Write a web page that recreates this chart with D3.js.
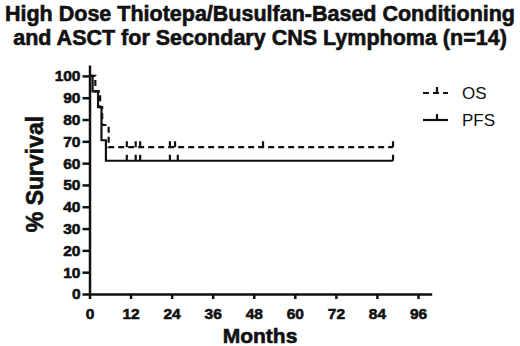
<!DOCTYPE html>
<html>
<head>
<meta charset="utf-8">
<script src="https://cdn.jsdelivr.net/npm/d3@7"></script>
<style>
  body { margin: 0; background: #fff; }
  svg { display: block; font-family: "Liberation Sans", Arial, Helvetica, sans-serif; }
  .heavy { stroke: #111; stroke-width: 0.6px; }
</style>
</head>
<body>
<svg id="chart" width="520" height="346"></svg>
<script>
// Kaplan-Meier steps (months, % survival)
const osTimes = [0, 1.7, 3.1, 3.7, 5.6, 88.7];
const osSurv = [100, 92.9, 85.7, 77.5, 67.3, 67.3];
const pfsTimes = [0, 0.9, 2.5, 3.5, 4.8, 88.7];
const pfsSurv = [100, 92.9, 85.7, 70.5, 61.1, 61.1];

// censored observations
const osCensor = [10.9, 13.5, 14.8, 23.5, 25.0, 50.7, 88.7];
const pfsCensor = [10.9, 13.5, 14.8, 23.5, 25.8, 88.7];

const xTicks = [0, 12, 24, 36, 48, 60, 72, 84, 96];
const yTicks = [0, 10, 20, 30, 40, 50, 60, 70, 80, 90, 100];

const titleLines = [
  "High Dose Thiotepa/Busulfan-Based Conditioning",
  "and ASCT for Secondary CNS Lymphoma (n=14)"
];

const svg = d3.select("#chart");

const x = d3.scaleLinear().domain([0, 100]).range([89.5, 431.7]);
const y = d3.scaleLinear().domain([0, 105]).range([294, 65]);

// Title
svg.append("g")
  .selectAll("text")
  .data(titleLines)
  .join("text")
  .attr("class", "heavy")
  .attr("x", 260)
  .attr("y", (d, i) => 21 + i * 24)
  .attr("text-anchor", "middle")
  .style("font-size", "21.5px")
  .style("font-weight", "bold")
  .attr("fill", "#111")
  .text(d => d);

// Axes
const xAxis = svg.append("g")
  .attr("transform", `translate(0,${y(0)})`)
  .call(d3.axisBottom(x).tickValues(xTicks).tickSize(5).tickSizeOuter(0).tickPadding(9));

const yAxis = svg.append("g")
  .attr("transform", `translate(${x(0)},0)`)
  .call(d3.axisLeft(y).tickValues(yTicks).tickSize(7).tickSizeOuter(0).tickPadding(2));

[xAxis, yAxis].forEach(a => {
  a.attr("font-family", null).attr("font-size", null);
  a.select(".domain").attr("stroke", "#111").attr("stroke-width", 2.5);
  a.selectAll(".tick line").attr("stroke", "#111").attr("stroke-width", 2.5);
  a.selectAll(".tick text")
    .attr("class", "heavy")
    .attr("fill", "#111")
    .style("font-size", "15.5px")
    .style("font-weight", "bold");
});

// Axis titles
svg.append("text")
  .attr("class", "heavy")
  .attr("x", 260)
  .attr("y", 343)
  .attr("text-anchor", "middle")
  .style("font-size", "21px")
  .style("font-weight", "bold")
  .attr("fill", "#111")
  .text("Months");

svg.append("text")
  .attr("class", "heavy")
  .attr("transform", "translate(43,174) rotate(-90)")
  .attr("text-anchor", "middle")
  .style("font-size", "23px")
  .style("font-weight", "bold")
  .attr("fill", "#111")
  .text("% Survival");

// Step lines
const step = d3.line()
  .x(d => x(d[0]))
  .y(d => y(d[1]))
  .curve(d3.curveStepAfter);

const series = [
  { name: "OS", times: osTimes, surv: osSurv, censor: osCensor, dash: "6,4" },
  { name: "PFS", times: pfsTimes, surv: pfsSurv, censor: pfsCensor, dash: null }
];

series.forEach(s => {
  const pts = s.times.map((t, i) => [t, s.surv[i]]);
  svg.append("path")
    .datum(pts)
    .attr("fill", "none")
    .attr("stroke", "#111")
    .attr("stroke-width", 2.2)
    .attr("stroke-dasharray", s.dash)
    .attr("d", step);

  // censor ticks sit on the level reached at each time
  const levelAt = t => {
    let v = s.surv[0];
    s.times.forEach((tt, i) => { if (tt <= t) v = s.surv[i]; });
    return v;
  };
  svg.append("g")
    .selectAll("line")
    .data(s.censor)
    .join("line")
    .attr("x1", d => x(d))
    .attr("x2", d => x(d))
    .attr("y1", d => y(levelAt(d)))
    .attr("y2", d => y(levelAt(d)) - 6)
    .attr("stroke", "#111")
    .attr("stroke-width", 2.2);
});

// Legend
const legend = svg.append("g");
series.forEach((s, i) => {
  const ly = 93 + i * 27;
  legend.append("line")
    .attr("x1", 423).attr("x2", 448)
    .attr("y1", ly).attr("y2", ly)
    .attr("stroke", "#111")
    .attr("stroke-width", 2.2)
    .attr("stroke-dasharray", s.dash);
  legend.append("line")
    .attr("x1", 437).attr("x2", 437)
    .attr("y1", ly).attr("y2", ly - 6)
    .attr("stroke", "#111")
    .attr("stroke-width", 2.2);
  legend.append("text")
    .attr("x", 462)
    .attr("y", ly + 6)
    .style("font-size", "17px")
    .attr("fill", "#111")
    .text(s.name);
});
</script>
</body>
</html>
